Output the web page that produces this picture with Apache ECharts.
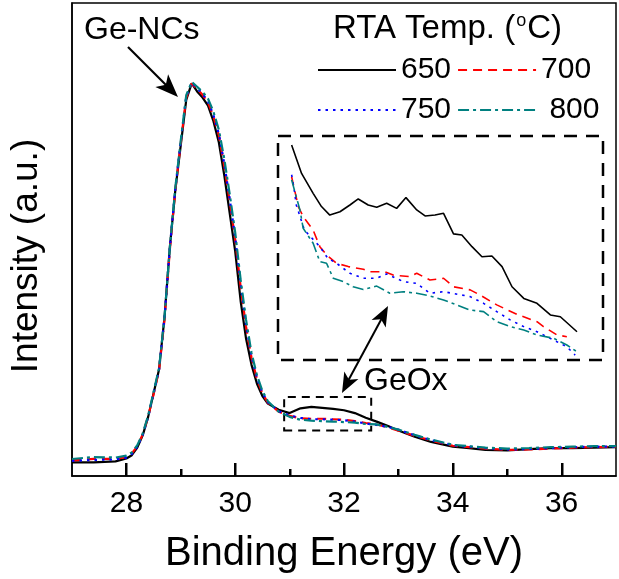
<!DOCTYPE html>
<html>
<head>
<meta charset="utf-8">
<script src="https://cdn.jsdelivr.net/npm/echarts@6/dist/echarts.min.js"></script>
<style>
  html, body { margin: 0; padding: 0; background: #fff; }
  #main { width: 619px; height: 579px; }
</style>
</head>
<body>
<div id="main"></div>
<script>
// binding energy (eV) for the main spectra
const energy = [27.0, 27.4, 27.8, 28.0, 28.1, 28.2, 28.3, 28.4, 28.5, 28.6,
  28.7, 28.8, 28.9, 29.0, 29.1, 29.2, 29.3, 29.4, 29.5, 29.6,
  29.7, 29.8, 29.9, 30.0, 30.1, 30.2, 30.3, 30.4, 30.5, 30.6,
  30.8, 31.0, 31.2, 31.4, 31.6, 31.8, 32.0, 32.2, 32.4, 32.6,
  32.8, 33.0, 33.3, 33.6, 34.0, 34.3, 34.6, 35.0, 35.4, 35.8,
  36.2, 36.6, 37.0];
// intensity (a.u.) per RTA temperature
const i650 = [2.9, 2.9, 3.1, 3.7, 4.4, 6.0, 8.6, 12.5, 17.5, 22.5,
  33.5, 48.5, 60.5, 70.0, 79.5, 83.0, 81.3, 80.0, 78.3, 75.0,
  70.5, 63.5, 55.5, 47.5, 37.0, 29.0, 23.5, 19.5, 16.9, 15.3,
  14.0, 13.3, 14.3, 14.6, 14.4, 14.2, 13.9, 13.3, 12.3, 11.5,
  10.6, 9.6, 8.3, 7.2, 6.2, 5.9, 5.5, 5.4, 5.7, 5.9,
  5.9, 6.0, 6.1];
const i700 = [3.3, 3.6, 3.6, 4.0, 4.8, 6.3, 8.8, 12.6, 17.3, 22.3,
  33.0, 48.0, 60.5, 70.5, 80.0, 83.0, 81.8, 80.6, 79.0, 76.0,
  72.0, 65.5, 58.0, 50.0, 40.0, 31.5, 25.0, 20.5, 17.5, 15.5,
  13.6, 12.7, 12.2, 12.1, 12.1, 12.0, 11.9, 11.6, 11.2, 10.9,
  10.3, 9.6, 8.5, 7.5, 6.4, 6.1, 5.8, 5.5, 5.6, 5.8,
  6.0, 6.1, 6.2];
const i750 = [3.2, 3.4, 3.5, 3.9, 4.7, 6.2, 8.7, 12.5, 17.5, 22.5,
  33.5, 48.5, 60.8, 70.8, 80.2, 83.2, 82.0, 80.8, 79.2, 76.3,
  72.3, 66.0, 58.5, 50.5, 40.5, 32.0, 25.3, 20.8, 17.6, 15.6,
  13.7, 12.8, 12.3, 12.0, 12.0, 11.9, 11.8, 11.5, 11.1, 10.8,
  10.4, 9.8, 8.6, 7.6, 6.5, 6.2, 5.9, 5.6, 5.7, 5.9,
  6.1, 6.2, 6.2];
const i800 = [3.6, 4.0, 3.9, 4.3, 5.0, 6.5, 9.0, 12.8, 17.8, 22.8,
  33.5, 48.5, 61.0, 71.0, 80.5, 83.3, 82.3, 81.2, 79.8, 77.0,
  73.2, 67.0, 59.5, 51.5, 41.5, 33.0, 26.0, 21.3, 18.0, 15.8,
  13.6, 12.5, 11.9, 11.7, 11.6, 11.5, 11.4, 11.3, 11.0, 10.9,
  10.4, 9.8, 8.7, 7.7, 6.6, 6.3, 6.0, 5.8, 5.9, 6.1,
  6.2, 6.3, 6.3];

// inset: GeOx region, [energy, relative intensity]
const inset650 = [[30.967, 96.0], [31.016, 83.3], [31.073, 74.4], [31.114, 68.5], [31.155, 64.7],
  [31.205, 66.2], [31.254, 69.2], [31.295, 71.9], [31.344, 69.2], [31.386, 68.2],
  [31.435, 70.0], [31.484, 67.7], [31.530, 72.5], [31.583, 67.0], [31.624, 64.3],
  [31.673, 64.7], [31.715, 65.5], [31.764, 56.3], [31.805, 55.8], [31.855, 50.6],
  [31.904, 46.1], [31.953, 46.4], [32.003, 41.7], [32.052, 32.7], [32.110, 27.5],
  [32.175, 25.3], [32.241, 20.1], [32.290, 19.3], [32.372, 12.6]];
const inset700 = [[30.967, 81.8], [31.000, 68.5], [31.024, 64.0], [31.073, 58.0], [31.106, 50.6],
  [31.139, 46.9], [31.188, 43.2], [31.246, 41.7], [31.320, 40.5], [31.353, 39.4],
  [31.426, 39.4], [31.467, 37.9], [31.549, 37.2], [31.583, 38.7], [31.648, 35.7],
  [31.715, 36.5], [31.764, 32.7], [31.846, 31.3], [31.895, 29.0], [31.977, 24.6],
  [32.076, 20.4], [32.175, 17.1], [32.207, 14.9], [32.273, 11.2], [32.322, 10.4]];
const inset750 = [[30.967, 82.7], [30.980, 75.9], [30.990, 69.2], [31.030, 58.0], [31.106, 50.6],
  [31.145, 45.4], [31.188, 43.2], [31.254, 38.7], [31.320, 36.5], [31.386, 36.5],
  [31.435, 38.4], [31.517, 35.0], [31.583, 34.2], [31.648, 29.8], [31.715, 30.5],
  [31.846, 28.3], [31.912, 25.3], [31.977, 21.6], [32.043, 17.9], [32.110, 14.9],
  [32.175, 12.6], [32.257, 8.9], [32.322, 5.9], [32.363, 2.2]];
const inset800 = [[30.967, 80.4], [31.008, 67.0], [31.024, 58.8], [31.073, 52.1], [31.106, 43.9],
  [31.139, 43.2], [31.172, 36.5], [31.221, 35.0], [31.270, 32.7], [31.320, 31.5],
  [31.386, 33.0], [31.451, 29.8], [31.517, 30.5], [31.583, 29.8], [31.648, 28.6],
  [31.715, 26.8], [31.780, 24.6], [31.846, 22.3], [31.912, 21.6], [31.977, 17.1],
  [32.043, 14.9], [32.110, 13.4], [32.175, 11.2], [32.257, 9.7], [32.322, 6.7],
  [32.372, 3.7]];

const majorTicks = [28, 30, 32, 34, 36];
const minorTicks = [29, 31, 33, 35];
// region of the main plot shown enlarged in the inset
const zoomBox = { x0: 30.9, x1: 32.5, y0: 9.6, y1: 16.7 };

const FONT = '"Liberation Sans", Arial, sans-serif';
const styles = {
  '650': { color: '#000000', type: 'solid' },
  '700': { color: '#ff0000', type: [9, 6] },
  '750': { color: '#0000ff', type: [2.5, 5] },
  '800': { color: '#008080', type: [11, 4, 3, 4] }
};

let chart = echarts.init(document.getElementById('main'));

function mainSeries(name, vals) {
  return {
    name: name,
    type: 'line',
    xAxisIndex: 0,
    yAxisIndex: 0,
    symbol: 'none',
    lineStyle: { color: styles[name].color, type: styles[name].type, width: 2.2 },
    itemStyle: { color: styles[name].color },
    data: energy.map((e, i) => [e, vals[i]]),
    z: 3
  };
}

function insetSeries(name, pts) {
  return {
    name: name,
    type: 'line',
    xAxisIndex: 1,
    yAxisIndex: 1,
    symbol: 'none',
    lineStyle: { color: styles[name].color, type: styles[name].type, width: 1.6 },
    itemStyle: { color: styles[name].color },
    data: pts
  };
}

let s650 = mainSeries('650', i650);
s650.markArea = {
  silent: true,
  itemStyle: { color: 'rgba(0,0,0,0)', borderColor: '#000', borderWidth: 2, borderType: [8, 6] },
  data: [[{ xAxis: zoomBox.x0, yAxis: zoomBox.y0 }, { xAxis: zoomBox.x1, yAxis: zoomBox.y1 }]]
};

// arrow head polygon, tip pointing away from "from"
function head(tip, from, len, half) {
  let dx = tip[0] - from[0], dy = tip[1] - from[1];
  let d = Math.sqrt(dx * dx + dy * dy);
  let ux = dx / d, uy = dy / d;
  let bx = tip[0] - ux * len, by = tip[1] - uy * len;
  let nx = tip[0] - ux * len * 0.75, ny = tip[1] - uy * len * 0.75;
  return [tip, [bx - uy * half, by + ux * half], [nx, ny], [bx + uy * half, by - ux * half]];
}

const geTail = [128, 47], geTip = [178, 97];
const oxTop = [388, 306], oxBot = [342, 393];

let graphics = [
  { type: 'text', left: 84, top: 14, style: { text: 'Ge-NCs', fill: '#000', font: '32px ' + FONT } },
  { type: 'line', shape: { x1: geTail[0], y1: geTail[1], x2: geTip[0] - 10, y2: geTip[1] - 10 },
    style: { stroke: '#000', lineWidth: 2.2 } },
  { type: 'polygon', shape: { points: head(geTip, geTail, 23, 9) }, style: { fill: '#000' } },
  { type: 'line', shape: { x1: oxBot[0] + 6, y1: oxBot[1] - 12, x2: oxTop[0] - 6, y2: oxTop[1] + 12 },
    style: { stroke: '#000', lineWidth: 2 } },
  { type: 'polygon', shape: { points: head(oxTop, oxBot, 20, 8) }, style: { fill: '#000' } },
  { type: 'polygon', shape: { points: head(oxBot, oxTop, 20, 8) }, style: { fill: '#000' } },
  { type: 'text', left: 364, top: 365, style: { text: 'GeOx', fill: '#000', font: '32px ' + FONT } },
  { type: 'rect', shape: { x: 278, y: 136, width: 325, height: 224 },
    style: { fill: 'none', stroke: '#000', lineWidth: 2.5, lineDash: [13, 9] } },
  { type: 'text', left: 333, top: 12,
    style: {
      text: 'RTA Temp. ({sup|o}C)',
      fill: '#000', font: '33px ' + FONT,
      rich: { sup: { fontSize: 18, fontFamily: FONT, verticalAlign: 'top', padding: [0, 1, 14, 1] } }
    } },
  { type: 'text', x: 27, y: 256, rotation: Math.PI / 2,
    style: { text: 'Intensity (a.u.)', fill: '#000', font: '37px ' + FONT, align: 'center', verticalAlign: 'middle' } }
];

const legendText = { fontSize: 30, color: '#000', fontFamily: FONT };

chart.setOption({
  animation: false,
  textStyle: { fontFamily: FONT },
  grid: [
    { left: 72, right: 1, top: 3, bottom: 95, show: true, borderColor: '#000', borderWidth: 1.5 },
    { left: 278, top: 136, width: 325, height: 224 }
  ],
  legend: [
    { data: ['650', '700'], left: 317, top: 55, itemWidth: 78, itemHeight: 14, itemGap: 6,
      padding: 0, selectedMode: false, itemStyle: { opacity: 0 }, textStyle: legendText },
    { data: ['750', '800'], left: 317, top: 95, itemWidth: 78, itemHeight: 14, itemGap: 6,
      padding: 0, selectedMode: false, itemStyle: { opacity: 0 }, textStyle: legendText,
      formatter: n => (n === '800' ? ' 800' : n) }
  ],
  xAxis: [
    {
      gridIndex: 0, type: 'value', min: 27, max: 37, interval: 1, position: 'bottom',
      name: 'Binding Energy (eV)', nameLocation: 'middle', nameGap: 58,
      nameTextStyle: { fontSize: 40, color: '#000', fontFamily: FONT },
      axisLine: { show: true, onZero: false, lineStyle: { color: '#000', width: 1.5 } },
      axisTick: { show: false },
      axisLabel: {
        show: true, fontSize: 30, color: '#000', margin: 13, fontFamily: FONT,
        formatter: v => (majorTicks.indexOf(v) >= 0 ? String(v) : '')
      },
      splitLine: { show: false }
    },
    { gridIndex: 1, type: 'value', min: zoomBox.x0, max: zoomBox.x1, show: false }
  ],
  yAxis: [
    {
      gridIndex: 0, type: 'value', min: 0, max: 100,
      axisLine: { show: true, onZero: false, lineStyle: { color: '#000', width: 1.5 } },
      axisTick: { show: false },
      axisLabel: { show: false },
      splitLine: { show: false }
    },
    { gridIndex: 1, type: 'value', min: 0, max: 100, show: false }
  ],
  series: [
    s650,
    mainSeries('700', i700),
    mainSeries('750', i750),
    mainSeries('800', i800),
    insetSeries('650', inset650),
    insetSeries('700', inset700),
    insetSeries('750', inset750),
    insetSeries('800', inset800)
  ],
  graphic: graphics
});

// inward ticks placed through the x scale of the main grid, as thin filled bars
function tickBars(vals, len) {
  return vals.map(v => {
    let p = chart.convertToPixel({ gridIndex: 0 }, [v, 0]);
    return {
      type: 'rect', z: 100,
      shape: { x: Math.round(p[0]) - 1, y: p[1] - len, width: 2.5, height: len },
      style: { fill: '#000' }
    };
  });
}
chart.setOption({
  graphic: graphics.concat(tickBars(majorTicks, 13), tickBars(minorTicks, 7))
});
</script>
</body>
</html>
